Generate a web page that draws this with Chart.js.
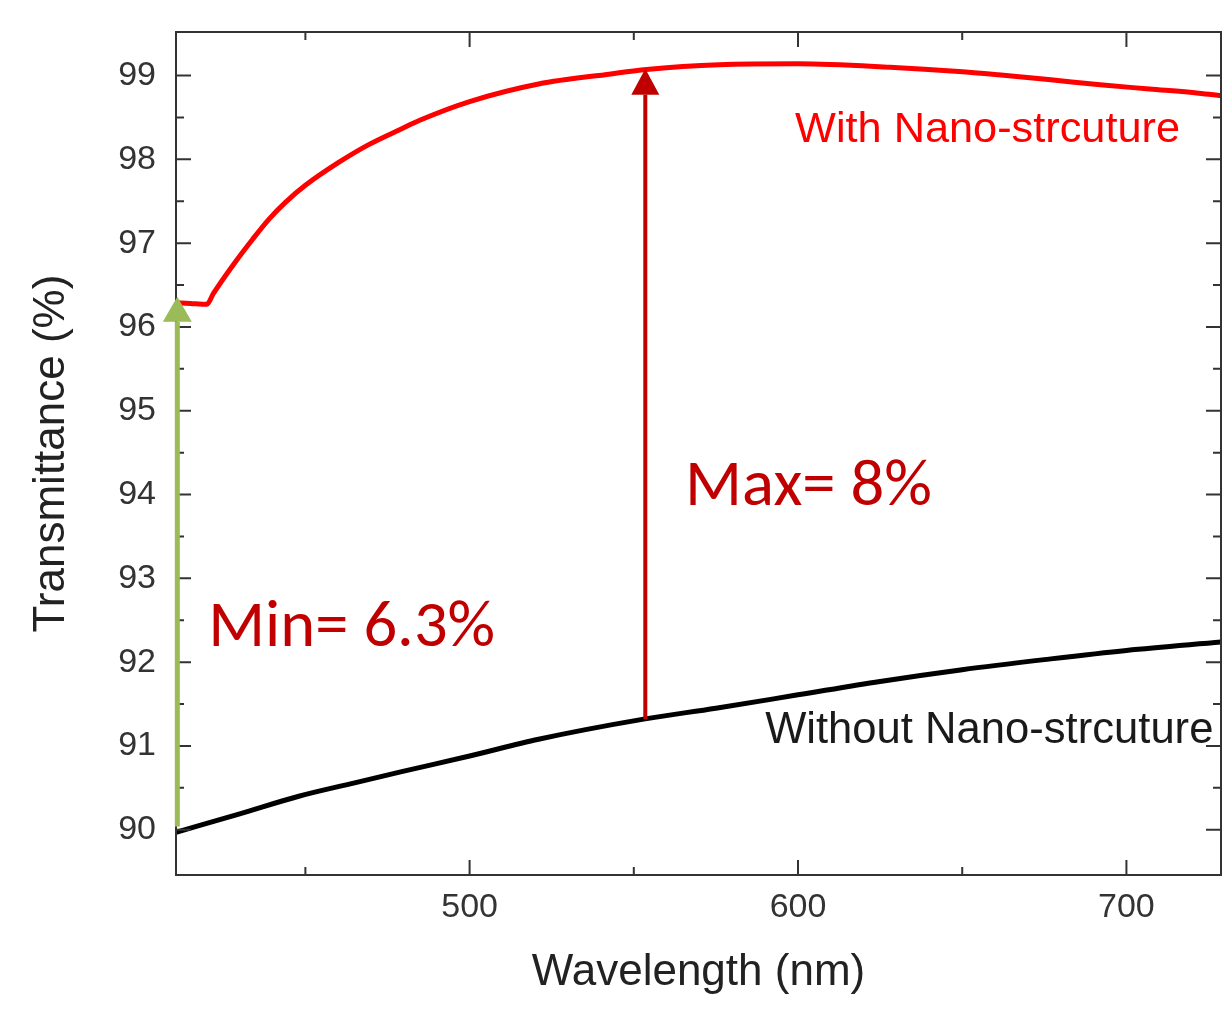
<!DOCTYPE html>
<html>
<head>
<meta charset="utf-8">
<title>Transmittance</title>
<script src="https://cdn.jsdelivr.net/npm/chart.js"></script>
<style>
  html, body { margin: 0; padding: 0; background: #fff; }
  canvas { display: block; }
</style>
</head>
<body>
<canvas id="chart" width="1228" height="1009"></canvas>
<script>
// values: wavelength (nm) and transmittance (%)
const withWl = [410.6, 415, 420, 422, 428, 434, 439, 444, 450, 460, 469, 479, 485, 500, 521, 543, 553, 576, 600, 628, 649, 661, 677, 692, 707, 722, 728.8]
const withT = [96.29, 96.28, 96.27, 96.4, 96.74, 97.05, 97.29, 97.49, 97.69, 97.96, 98.17, 98.36, 98.47, 98.69, 98.9, 99.02, 99.07, 99.13, 99.14, 99.1, 99.05, 99.01, 98.95, 98.89, 98.84, 98.79, 98.76]

const withoutWl = [410.6, 430, 448, 465, 479, 500, 521, 553, 575, 600, 625, 650, 675, 700, 728.8]
const withoutT = [89.97, 90.19, 90.4, 90.56, 90.69, 90.88, 91.08, 91.32, 91.45, 91.61, 91.77, 91.91, 92.03, 92.14, 92.24]

const xTicks = [500, 600, 700]
const xMinorTicks = [450, 550, 650]
const yTicks = [90, 91, 92, 93, 94, 95, 96, 97, 98, 99]
const yMinorTicks = [90.5, 91.5, 92.5, 93.5, 94.5, 95.5, 96.5, 97.5, 98.5]

// arrows: wavelength, from, to
const minArrow = [411, 90.04, 96.36]
const maxArrow = [553.5, 91.32, 99.08]

const notes = [
    { text: 'Min= 6.3%', x: 420.4, y: 92.19, color: '#C00000', family: 'Carlito, Lato, sans-serif', width: 287 },
    { text: 'Max= 8%', x: 565.6, y: 93.87, color: '#C00000', family: 'Carlito, Lato, sans-serif', width: 247 },
    { text: 'With Nano-strcuture', x: 599.1, y: 98.21, color: '#FF0000', family: '"Liberation Sans", Arial, sans-serif', width: 385 },
    { text: 'Without Nano-strcuture', x: 590.0, y: 91.04, color: '#1a1a1a', family: '"Liberation Sans", Arial, sans-serif', width: 448 }
]

const axisFont = '"Liberation Sans", Arial, sans-serif'

function drawArrow(ctx, x, y0, y1, color, lw, headW, headH) {
    ctx.save()
    ctx.strokeStyle = color
    ctx.fillStyle = color
    ctx.lineWidth = lw
    ctx.beginPath()
    ctx.moveTo(x, y0)
    ctx.lineTo(x, y1 + headH)
    ctx.stroke()
    ctx.beginPath()
    ctx.moveTo(x, y1)
    ctx.lineTo(x - headW / 2, y1 + headH)
    ctx.lineTo(x + headW / 2, y1 + headH)
    ctx.closePath()
    ctx.fill()
    ctx.restore()
}

// scales add label half-heights + padding around the chart area; the layout padding handles it here
function noScalePadding(s) {
    s.paddingTop = 0
    s.paddingBottom = 0
    s.paddingLeft = 0
    s.paddingRight = 0
}

const overlay = {
    id: 'overlay',
    afterDatasetsDraw(chart) {
        const { ctx, chartArea: a, scales: { x, y } } = chart
        ctx.save()
        // frame with inward ticks on all four sides
        ctx.strokeStyle = '#333'
        ctx.lineWidth = 2
        ctx.strokeRect(a.left, a.top, a.right - a.left, a.bottom - a.top)
        ctx.beginPath()
        const tickX = (vals, len) => vals.forEach(v => {
            const px = x.getPixelForValue(v)
            ctx.moveTo(px, a.bottom); ctx.lineTo(px, a.bottom - len)
            ctx.moveTo(px, a.top); ctx.lineTo(px, a.top + len)
        })
        const tickY = (vals, len) => vals.forEach(v => {
            const py = y.getPixelForValue(v)
            ctx.moveTo(a.left, py); ctx.lineTo(a.left + len, py)
            ctx.moveTo(a.right, py); ctx.lineTo(a.right - len, py)
        })
        tickX(xTicks, 15)
        tickX(xMinorTicks, 8)
        tickY(yTicks, 15)
        tickY(yMinorTicks, 8)
        ctx.stroke()
        ctx.restore()

        drawArrow(ctx, x.getPixelForValue(minArrow[0]), y.getPixelForValue(minArrow[1]),
            y.getPixelForValue(minArrow[2]), '#9BBB59', 5, 29, 25)
        drawArrow(ctx, x.getPixelForValue(maxArrow[0]), y.getPixelForValue(maxArrow[1]),
            y.getPixelForValue(maxArrow[2]), '#C00000', 4, 28, 26)

        ctx.save()
        ctx.textBaseline = 'alphabetic'
        ctx.textAlign = 'left'
        notes.forEach(n => {
            ctx.font = '100px ' + n.family
            const size = 100 * n.width / ctx.measureText(n.text).width
            ctx.font = size.toFixed(1) + 'px ' + n.family
            ctx.fillStyle = n.color
            ctx.fillText(n.text, x.getPixelForValue(n.x), y.getPixelForValue(n.y))
        })
        ctx.restore()
    }
}

new Chart(document.getElementById('chart'), {
    type: 'line',
    data: {
        datasets: [{
            label: 'With Nano-strcuture',
            data: withWl.map((w, i) => ({ x: w, y: withT[i] })),
            borderColor: '#FF0000',
            borderWidth: 5,
            pointRadius: 0,
            cubicInterpolationMode: 'monotone'
        }, {
            label: 'Without Nano-strcuture',
            data: withoutWl.map((w, i) => ({ x: w, y: withoutT[i] })),
            borderColor: '#000000',
            borderWidth: 5,
            pointRadius: 0,
            cubicInterpolationMode: 'monotone'
        }]
    },
    options: {
        responsive: false,
        animation: false,
        devicePixelRatio: 1,
        layout: { padding: { top: 32, right: 7, left: 0, bottom: 0 } },
        plugins: { legend: { display: false }, tooltip: { enabled: false } },
        scales: {
            x: {
                type: 'linear',
                min: 410.6,
                max: 728.8,
                afterBuildTicks: s => { s.ticks = xTicks.map(v => ({ value: v })) },
                afterFit: s => { s.height = 134; noScalePadding(s) },
                grid: { display: false, drawTicks: false },
                border: { display: false },
                ticks: { color: '#333', padding: 12, font: { family: axisFont, size: 34 } },
                title: {
                    display: true,
                    text: 'Wavelength (nm)',
                    color: '#222',
                    padding: { top: 0, bottom: 10 },
                    font: { family: axisFont, size: 44 }
                }
            },
            y: {
                min: 89.46,
                max: 99.52,
                afterBuildTicks: s => { s.ticks = yTicks.map(v => ({ value: v })) },
                afterFit: s => { s.width = 176; noScalePadding(s) },
                grid: { display: false, drawTicks: false },
                border: { display: false },
                ticks: { color: '#333', padding: 20, font: { family: axisFont, size: 34 } },
                title: {
                    display: true,
                    text: 'Transmittance (%)',
                    color: '#222',
                    padding: { top: 25, bottom: 0 },
                    font: { family: axisFont, size: 44 }
                }
            }
        }
    },
    plugins: [overlay]
})
</script>
</body>
</html>
